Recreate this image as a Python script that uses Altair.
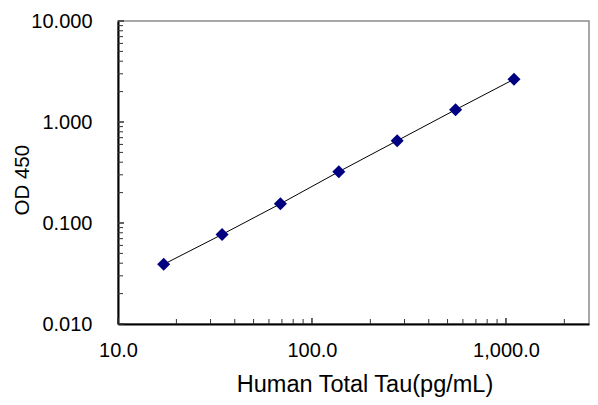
import altair as alt
import pandas as pd

# Data
conc = [17.2, 34.4, 68.75, 137.5, 275, 550, 1100]
od = [0.039, 0.077, 0.155, 0.322, 0.653, 1.324, 2.65]

x_major = [10, 100, 1000]
x_minor = [20, 30, 40, 50, 60, 70, 80, 90,
           200, 300, 400, 500, 600, 700, 800, 900, 2000]
y_major = [0.01, 0.1, 1, 10]
y_minor = [0.02, 0.03, 0.04, 0.05, 0.06, 0.07, 0.08, 0.09,
           0.2, 0.3, 0.4, 0.5, 0.6, 0.7, 0.8, 0.9,
           2, 3, 4, 5, 6, 7, 8, 9]

W, H = 471, 303
FONT = "Liberation Sans"

df = pd.DataFrame({"conc": conc, "od": od})
xmaj = pd.DataFrame({"v": x_major})
xmin = pd.DataFrame({"v": x_minor})
ymaj = pd.DataFrame({"v": y_major})
ymin = pd.DataFrame({"v": y_minor})

xscale = alt.Scale(type="log", domain=[10, 2680], nice=False)
yscale = alt.Scale(type="log", domain=[0.01, 10], nice=False)

xaxis = alt.Axis(values=x_major, format=",.1f", grid=False, ticks=False, tickSize=0,
                 labelPadding=16, labelFontSize=20, labelFont=FONT, labelColor="black",
                 domainColor="black", domainWidth=2,
                 title="Human Total Tau(pg/mL)", titleFont=FONT, titleFontSize=23.5,
                 titleFontWeight="normal", titleColor="black",
                 titleX=246.5, titleY=67.5, titleBaseline="alphabetic", titleAnchor="start",
                 titleAlign="center", labelFlush=False, labelOverlap=False)
yaxis = alt.Axis(values=y_major, format=".3f", grid=False, ticks=False, tickSize=0,
                 labelPadding=26, labelFontSize=20, labelFont=FONT, labelColor="black",
                 domainColor="black", domainWidth=2,
                 title="OD 450", titleFont=FONT, titleFontSize=20.5,
                 titleFontWeight="normal", titleColor="black",
                 titleX=-95.5, titleY=158.7, titleBaseline="middle", titleAngle=270,
                 titleAlign="center", labelFlush=False, labelOverlap=False)

line = alt.Chart(df).mark_line(color="black", strokeWidth=1).encode(
    x=alt.X("conc:Q", scale=xscale, axis=xaxis),
    y=alt.Y("od:Q", scale=yscale, axis=yaxis),
)
points = alt.Chart(df).mark_point(shape="diamond", filled=True, size=170,
                                  color="#000080", opacity=1).encode(
    x=alt.X("conc:Q", scale=xscale),
    y=alt.Y("od:Q", scale=yscale),
)

xminor_r = alt.Chart(xmin).mark_rule(color="#333333", strokeWidth=1).encode(
    x=alt.X("v:Q", scale=xscale), y=alt.value(H), y2=alt.value(H - 5))
xmajor_r = alt.Chart(xmaj).mark_rule(color="#333333", strokeWidth=1.5).encode(
    x=alt.X("v:Q", scale=xscale), y=alt.value(H), y2=alt.value(H - 6))
yminor_r = alt.Chart(ymin).mark_rule(color="#333333", strokeWidth=1).encode(
    y=alt.Y("v:Q", scale=yscale), x=alt.value(0), x2=alt.value(5))
ymajor_r = alt.Chart(ymaj).mark_rule(color="#333333", strokeWidth=1.5).encode(
    y=alt.Y("v:Q", scale=yscale), x=alt.value(0), x2=alt.value(6))

chart = alt.layer(xminor_r, xmajor_r, yminor_r, ymajor_r, line, points).properties(
    width=W, height=H,
    autosize=alt.AutoSizeParams(type="none"),
    padding={"left": 110, "top": 13, "right": 1, "bottom": 73},
    background="white",
).configure_view(stroke="#8c8c8c", strokeWidth=1.5)

chart.save("out.html", embed_options={"renderer": "svg", "actions": False})
